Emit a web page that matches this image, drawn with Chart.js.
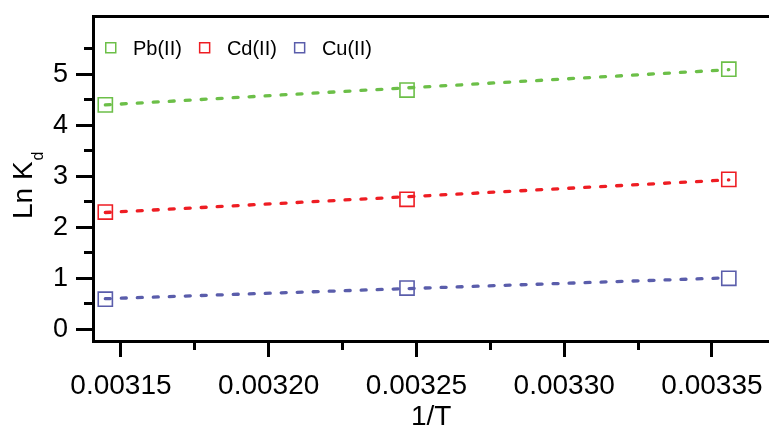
<!DOCTYPE html>
<html>
<head>
<meta charset="utf-8">
<script src="https://cdn.jsdelivr.net/npm/chart.js@4"></script>
<style>
  html, body { margin: 0; padding: 0; background: #fff; }
  #wrap { width: 769px; height: 433px; position: relative; }
</style>
</head>
<body>
<div id="wrap"><canvas id="kdChart"></canvas></div>
<script>
// Measured points (x = 1/T)
const invT = [0.0031447, 0.0032468, 0.0033557];
const pb = [4.40, 4.69, 5.10];
const cd = [2.30, 2.55, 2.94];
const cu = [0.59, 0.81, 1.00];

// Fitted lines, end points
const fitX = [0.0031447, 0.0033557];
const pbFit = [4.40, 5.09];
const cdFit = [2.29, 2.93];
const cuFit = [0.60, 1.01];

const xTicks = [0.00315, 0.00320, 0.00325, 0.00330, 0.00335];
const xMinor = [0.003175, 0.003225, 0.003275, 0.003325];
const yTicks = [0, 1, 2, 3, 4, 5];
const yMinor = [0.5, 1.5, 2.5, 3.5, 4.5, 5.5];

const names = ["Pb(II)", "Cd(II)", "Cu(II)"];
const colors = ["#6CBF48", "#EE1D23", "#5A5DAB"];

const FONT = "'Liberation Sans', Arial, Helvetica, sans-serif";
const pts = (xs, ys) => xs.map((x, i) => ({ x, y: ys[i] }));

const series = [pb, cd, cu], fits = [pbFit, cdFit, cuFit];
const datasets = [];
series.forEach((s, i) => {
  datasets.push({
    label: names[i] + " fit", data: pts(fitX, fits[i]), showLine: true,
    borderColor: colors[i], borderWidth: 3.3, borderDash: [5, 11], borderCapStyle: "round",
    pointRadius: 0, fill: false
  });
  datasets.push({
    label: names[i], data: pts(invT, s), showLine: false,
    pointStyle: "rect", pointRadius: 10, pointBorderWidth: 1.6,
    pointBorderColor: colors[i], pointBackgroundColor: "rgba(0,0,0,0)"
  });
});

// no extra room for edge labels: the plot box is fixed
const noPad = s => { s.paddingLeft = 0; s.paddingRight = 0; s.paddingTop = 0; s.paddingBottom = 0; };

// frame top line, major/minor ticks, y title with subscript, legend
const decor = {
  id: "decor",
  afterDraw(chart) {
    const { ctx, chartArea: a, scales: { x, y } } = chart;
    const al = p => Math.floor(p) + 0.5;
    ctx.save();
    ctx.strokeStyle = "#000"; ctx.lineWidth = 3; ctx.lineCap = "butt";
    ctx.beginPath();
    ctx.moveTo(a.left - 1.5, a.top); ctx.lineTo(a.right, a.top);
    xTicks.forEach(v => { const p = al(x.getPixelForValue(v)); ctx.moveTo(p, a.bottom); ctx.lineTo(p, a.bottom + 16); });
    xMinor.forEach(v => { const p = al(x.getPixelForValue(v)); ctx.moveTo(p, a.bottom); ctx.lineTo(p, a.bottom + 9); });
    yTicks.forEach(v => { const p = al(y.getPixelForValue(v)); ctx.moveTo(a.left, p); ctx.lineTo(a.left - 17.5, p); });
    yMinor.forEach(v => { const p = al(y.getPixelForValue(v)); ctx.moveTo(a.left, p); ctx.lineTo(a.left - 9.5, p); });
    ctx.stroke();

    // y title: Ln K_d
    ctx.fillStyle = "#000";
    ctx.translate(32, 219);
    ctx.rotate(-Math.PI / 2);
    ctx.textAlign = "left"; ctx.textBaseline = "alphabetic";
    ctx.font = "28px " + FONT;
    ctx.fillText("Ln K", 0, 0);
    const w = ctx.measureText("Ln K").width;
    ctx.font = "16px " + FONT;
    ctx.fillText("d", w + 1, 11);
    ctx.setTransform(1, 0, 0, 1, 0, 0);

    // legend
    ctx.font = "20px " + FONT;
    ctx.lineWidth = 1.5;
    let lx = 105;
    names.forEach((n, i) => {
      ctx.strokeStyle = colors[i];
      ctx.strokeRect(lx + 0.75, 42.75, 10, 10);
      ctx.fillStyle = "#000";
      ctx.fillText(n, lx + 28, 55);
      lx += 28 + ctx.measureText(n).width + 17;
    });
    ctx.restore();
  }
};

new Chart(document.getElementById("kdChart"), {
  type: "scatter",
  data: { datasets },
  options: {
    responsive: true, maintainAspectRatio: false, animation: false,
    layout: { autoPadding: false, padding: { top: 16.5, left: 0, right: 0, bottom: 0 } },
    plugins: { legend: { display: false }, tooltip: { enabled: false } },
    scales: {
      x: {
        type: "linear", min: 0.0031407, max: 0.0033693,
        afterBuildTicks: s => { s.ticks = xTicks.map(v => ({ value: v })); },
        afterFit: s => { s.height = 92; noPad(s); },
        grid: { display: true, drawOnChartArea: false, drawTicks: false },
        border: { display: true, color: "#000", width: 3 },
        ticks: { color: "#000", font: { family: FONT, size: 28 }, padding: 28, maxRotation: 0,
          callback: v => v.toFixed(5) },
        title: { display: true, text: "1/T", color: "#000", padding: 0,
          font: { family: FONT, size: 28, lineHeight: 1.1 } }
      },
      y: {
        min: -0.229, max: 6.133,
        afterBuildTicks: s => { s.ticks = yTicks.map(v => ({ value: v })); },
        afterFit: s => { s.width = 93.5; noPad(s); },
        grid: { display: true, drawOnChartArea: false, drawTicks: false },
        border: { display: true, color: "#000", width: 3 },
        ticks: { color: "#000", font: { family: FONT, size: 27 }, padding: 25.5 }
      }
    }
  },
  plugins: [decor]
});
</script>
</body>
</html>
